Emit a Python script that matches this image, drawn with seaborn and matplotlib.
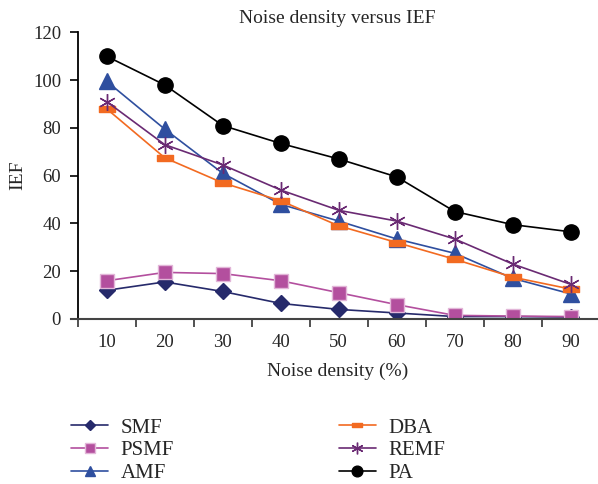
#!/usr/bin/env python3
# -*- coding: utf-8 -*-

# Bibliotecas
import numpy as np
import pandas as pd
import seaborn as sns
import matplotlib.pyplot as plt
from matplotlib.path import Path

# Dados
v_densidade = [10, 20, 30, 40, 50, 60, 70, 80, 90]
v_smf = [12, 15.5, 11.5, 6.5, 4, 2.5, 1, 1, 0.8]
v_psmf = [16, 19.5, 19, 16, 11, 6, 1.5, 1.2, 1]
v_amf = [99.5, 79.5, 61, 48, 41, 33.5, 27.5, 17, 10.5]
v_dba = [88, 67.5, 57, 49.5, 39, 32, 25, 17.5, 12.5]
v_remf = [91, 73, 64.5, 54, 45.5, 41, 33.5, 23, 14.5]
v_pa = [110, 98, 81, 73.5, 67, 59.5, 45, 39.5, 36.5]

v_series = ['SMF', 'PSMF', 'AMF', 'DBA', 'REMF', 'PA']
v_valores = [v_smf, v_psmf, v_amf, v_dba, v_remf, v_pa]

df = pd.DataFrame({'Noise density': v_densidade * len(v_series),
                   'IEF': sum(v_valores, []),
                   'Metodo': np.repeat(v_series, len(v_densidade))})

# Marcador retangular (DBA)
v_ret = Path([(-1, -0.4), (1, -0.4), (1, 0.4), (-1, 0.4), (-1, -0.4)],
             [Path.MOVETO, Path.LINETO, Path.LINETO, Path.LINETO, Path.CLOSEPOLY])

v_estilos = {
    'SMF': dict(color='#262a6b', marker='D', ms=8, mec='#262a6b'),
    'PSMF': dict(color='#b34f9e', marker='s', ms=10, mec='#e2b6d8'),
    'AMF': dict(color='#2f4f9f', marker='^', ms=11, mec='#2f4f9f'),
    'DBA': dict(color='#f26a21', marker=v_ret, ms=11, mec='#f26a21'),
    'REMF': dict(color='#6a2a73', marker=(6, 2, 0), ms=12, mec='#6a2a73'),
    'PA': dict(color='black', marker='o', ms=11, mec='black'),
}

sns.set_style('ticks')
plt.rcParams['font.family'] = ['Liberation Serif', 'DejaVu Serif']

fig = plt.figure(figsize=(5.98, 4.84), dpi=100)
ax = fig.add_axes([0.130, 0.341, 0.868, 0.592])

for v_nome in v_series:
    est = v_estilos[v_nome]
    sns.lineplot(data=df[df['Metodo'] == v_nome], x='Noise density', y='IEF',
                 color=est['color'], marker=est['marker'], markersize=est['ms'],
                 mec=est['mec'], mew=1, linewidth=1.2, label=v_nome, ax=ax)

ax.set_xlim(5, 94.5)
ax.set_ylim(0, 120)
ax.set_yticks(range(0, 121, 20))
ax.set_xticks(range(5, 95, 10))
ax.set_xticklabels([])
ax.set_xticks(v_densidade, minor=True)
ax.set_xticklabels([str(v) for v in v_densidade], minor=True)
ax.tick_params(axis='x', which='minor', length=0, pad=11, labelsize=13.5)
ax.tick_params(axis='x', which='major', length=6, width=1.2, direction='out', color='#333333')
ax.tick_params(axis='y', length=6, width=1.2, pad=6, labelsize=13.5, color='black')
for s in ['top', 'right']:
    ax.spines[s].set_visible(False)
ax.spines['left'].set_linewidth(1.3)
ax.spines['left'].set_color('black')
ax.spines['bottom'].set_linewidth(1.5)
ax.spines['bottom'].set_color('#444444')
ax.spines['bottom'].set_bounds(3.9, 94.5)

ax.set_xlabel('Noise density (%)', fontsize=14, labelpad=8)
ax.set_ylabel('IEF', fontsize=14, labelpad=5)
ax.set_title('Noise density versus IEF', fontsize=14, pad=7)

ax.legend(loc='upper left', bbox_to_anchor=(0.087, 0.175), bbox_transform=fig.transFigure,
          ncol=2, frameon=False, fontsize=15, handlelength=1.8, markerscale=0.7,
          columnspacing=7.9, labelspacing=0.15, handletextpad=0.6)

plt.savefig('out.png', dpi=100)
